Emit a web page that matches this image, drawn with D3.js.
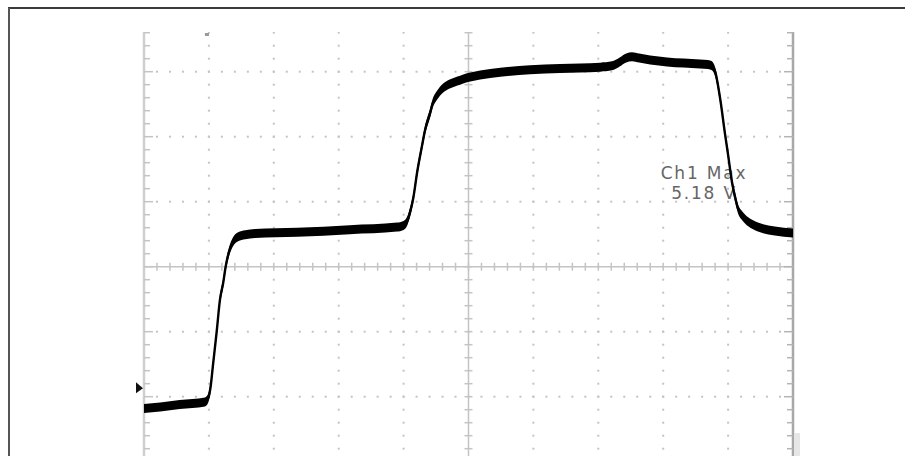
<!DOCTYPE html>
<html>
<head>
<meta charset="utf-8">
<script src="https://cdn.jsdelivr.net/npm/d3@7"></script>
<style>
  html, body { margin: 0; padding: 0; background: #fff; }
  svg { display: block; }
</style>
</head>
<body>
<svg id="chart" width="905" height="456"></svg>
<script>
// ---- Data (time in divisions, voltage in volts, 1 V/div) ----
const timeDiv = [0, 0.25, 0.55, 0.94, 0.99, 1.03, 1.06, 1.12, 1.17, 1.22, 1.26, 1.31, 1.37, 1.45, 1.56, 1.71,
  2.36, 3.17, 3.90, 3.99, 4.05, 4.10, 4.15, 4.21, 4.28, 4.33, 4.41, 4.45, 4.51, 4.61, 4.71, 4.87, 4.99,
  5.18, 5.49, 5.95, 6.41, 7.03, 7.21, 7.33, 7.43, 7.52, 7.63, 7.80, 8.06, 8.57, 8.69, 8.75, 8.80, 8.88,
  8.95, 9.00, 9.06, 9.11, 9.15, 9.22, 9.31, 9.46, 9.72, 10.0];
const volts = [-0.31, -0.29, -0.25, -0.21, -0.15, 0.05, 0.33, 0.87, 1.36, 1.62, 1.88, 2.10, 2.25, 2.33, 2.36, 2.38,
  2.40, 2.44, 2.48, 2.50, 2.56, 2.71, 2.93, 3.33, 3.71, 3.97, 4.24, 4.39, 4.50, 4.62, 4.68, 4.74, 4.78,
  4.82, 4.86, 4.90, 4.92, 4.94, 4.96, 5.02, 5.08, 5.10, 5.08, 5.05, 5.02, 4.99, 4.98, 4.96, 4.87, 4.44,
  3.93, 3.59, 3.17, 2.93, 2.77, 2.65, 2.56, 2.48, 2.42, 2.39];
const measLabels = ["Ch1 Max", "5.18 V"];
const horizDivs = 10;
const vertDivs = 8;
const minorPerDiv = 5;
const centerVolts = 1.87;
const triggerTime = 0.97;

// ---- Layout ----
const svg = d3.select("#chart");
const x = d3.scaleLinear().domain([0, horizDivs]).range([144, 793]);
const y = d3.scaleLinear().domain([centerVolts - vertDivs / 2, centerVolts + vertDivs / 2]).range([526.7, 6.7]);
const clipTop = 32;

// outer frame (top + left)
svg.append("line").attr("x1", 8).attr("x2", 905).attr("y1", 8).attr("y2", 8)
  .attr("stroke", "#3a3a3a").attr("stroke-width", 2);
svg.append("line").attr("x1", 9).attr("x2", 9).attr("y1", 8).attr("y2", 456)
  .attr("stroke", "#555").attr("stroke-width", 2);

svg.append("clipPath").attr("id", "grat").append("rect")
  .attr("x", 0).attr("y", clipTop).attr("width", 905).attr("height", 456 - clipTop);
const g = svg.append("g").attr("clip-path", "url(#grat)");

const gridCol = "#c4c4c4";
const minorT = d3.range(0, horizDivs * minorPerDiv + 1).map(i => i / minorPerDiv);
const minorV = d3.range(0, vertDivs * minorPerDiv + 1).map(i => centerVolts - vertDivs / 2 + i / minorPerDiv);
const majorT = d3.range(1, horizDivs).filter(d => d !== horizDivs / 2);
const majorV = d3.range(1, vertDivs).map(i => centerVolts - vertDivs / 2 + i).filter(v => Math.abs(v - centerVolts) > 1e-6);

// dotted vertical grid lines
majorT.forEach(t => {
  g.selectAll(null).data(minorV).enter().append("rect")
    .attr("x", x(t) - 1).attr("y", d => y(d) - 1).attr("width", 2).attr("height", 2).attr("fill", gridCol);
});
// dotted horizontal grid lines
majorV.forEach(v => {
  g.selectAll(null).data(minorT).enter().append("rect")
    .attr("x", d => x(d) - 1).attr("y", y(v) - 1).attr("width", 2).attr("height", 2).attr("fill", gridCol);
});

// center cross lines with ticks
const cx = x(horizDivs / 2), cy = y(centerVolts);
g.append("line").attr("x1", cx).attr("x2", cx).attr("y1", clipTop).attr("y2", 456)
  .attr("stroke", gridCol).attr("stroke-width", 1.5);
g.append("line").attr("x1", x(0)).attr("x2", x(horizDivs)).attr("y1", cy).attr("y2", cy)
  .attr("stroke", gridCol).attr("stroke-width", 1.5);
g.selectAll(null).data(minorV).enter().append("line")
  .attr("x1", cx - 4).attr("x2", cx + 4).attr("y1", d => y(d)).attr("y2", d => y(d))
  .attr("stroke", gridCol).attr("stroke-width", 1.5);
g.selectAll(null).data(minorT).enter().append("line")
  .attr("y1", cy - 4).attr("y2", cy + 4).attr("x1", d => x(d)).attr("x2", d => x(d))
  .attr("stroke", gridCol).attr("stroke-width", 1.5);

// edge lines with inward ticks
g.append("line").attr("x1", x(0)).attr("x2", x(0)).attr("y1", clipTop).attr("y2", 456)
  .attr("stroke", "#cfcfcf").attr("stroke-width", 2.5);
g.append("line").attr("x1", x(horizDivs)).attr("x2", x(horizDivs)).attr("y1", clipTop).attr("y2", 456)
  .attr("stroke", "#a8a8a8").attr("stroke-width", 2.5);
svg.append("rect").attr("x", x(horizDivs) + 1).attr("y", 433).attr("width", 6).attr("height", 23).attr("fill", "#e6e6e6");
const isMajor = d => Math.abs((d - centerVolts) - Math.round(d - centerVolts)) < 1e-6;
g.selectAll(null).data(minorV).enter().append("line")
  .attr("x1", x(0)).attr("x2", d => x(0) + (isMajor(d) ? 9 : 6))
  .attr("y1", d => y(d)).attr("y2", d => y(d))
  .attr("stroke", gridCol).attr("stroke-width", 1.5);
g.selectAll(null).data(minorV).enter().append("line")
  .attr("x1", x(horizDivs)).attr("x2", d => x(horizDivs) - (isMajor(d) ? 9 : 6))
  .attr("y1", d => y(d)).attr("y2", d => y(d))
  .attr("stroke", "#b4b4b4").attr("stroke-width", 1.5);

// trigger position marker
svg.append("rect").attr("x", x(triggerTime) - 2).attr("y", clipTop + 1).attr("width", 4).attr("height", 3).attr("fill", "#999");

// ground marker
const gy = y(0);
svg.append("path").attr("d", `M${x(0) - 8},${gy - 6} L${x(0) - 1},${gy} L${x(0) - 8},${gy + 5} Z`).attr("fill", "#111");

// measurement readout
const textY = [178.5, 198.5];
measLabels.forEach((s, i) => {
  svg.append("text").attr("x", 704).attr("y", textY[i])
    .attr("text-anchor", "middle").attr("font-family", "DejaVu Sans, sans-serif")
    .attr("font-size", 17).attr("letter-spacing", 1.8).attr("fill", "#666")
    .text(s);
});

// trace
const pts = timeDiv.map((t, i) => [t, volts[i]]);
const band = 4.5;
const area = d3.area().x(d => x(d[0])).y0(d => y(d[1]) + band).y1(d => y(d[1]) - band).curve(d3.curveMonotoneX);
const line = d3.line().x(d => x(d[0])).y(d => y(d[1])).curve(d3.curveMonotoneX);
svg.append("path").attr("d", area(pts)).attr("fill", "#000");
svg.append("path").attr("d", line(pts)).attr("fill", "none").attr("stroke", "#000").attr("stroke-width", 2.4);
</script>
</body>
</html>
